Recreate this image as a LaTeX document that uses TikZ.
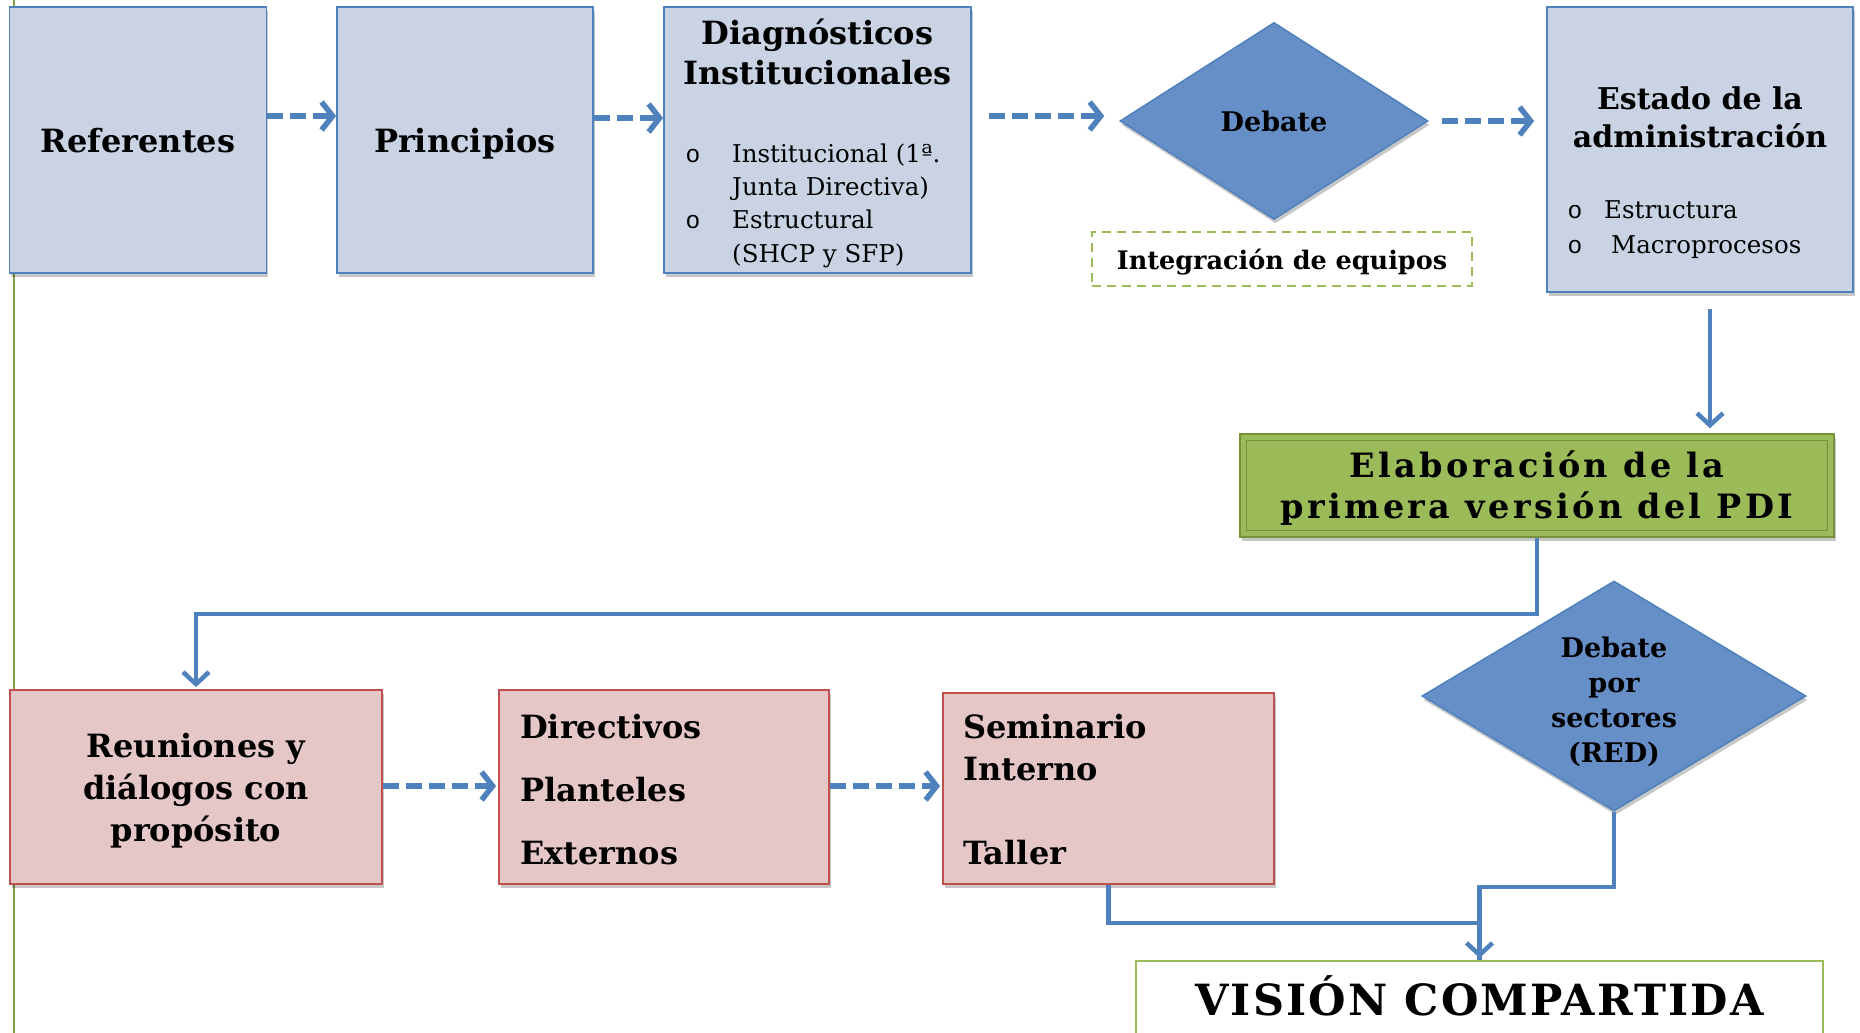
\documentclass[tikz,border=0pt]{standalone}
\usepackage{fontspec}
\setmainfont{DejaVu Serif}
\newfontfamily\spacedfont[LetterSpace=10]{DejaVu Serif}
\newfontfamily\visfont[LetterSpace=5]{DejaVu Serif}
\newfontfamily\bulletfont{Liberation Mono}
\usetikzlibrary{arrows.meta,shapes.geometric,shadows,calc}
\definecolor{boxfill}{RGB}{201,211,228}
\definecolor{bordblue}{RGB}{79,129,189}
\definecolor{diafill}{RGB}{102,142,199}
\definecolor{pinkfill}{RGB}{229,199,199}
\definecolor{pinkbord}{RGB}{192,80,77}
\definecolor{grn}{RGB}{155,187,89}
\definecolor{grndark}{RGB}{118,146,60}
\definecolor{vgreen}{RGB}{130,158,70}
\newcommand{\mybul}[1]{\llap{{\bulletfont o}\hspace{#1}}}
\begin{document}
\begin{tikzpicture}[x=1pt,y=-1pt,
  shad/.style={drop shadow={shadow xshift=1.5pt,shadow yshift=-4pt,opacity=0.22,fill=black}},
  bluebox/.style={draw=bordblue,line width=1.8pt,fill=boxfill,inner sep=0pt,shad},
  pinkbox/.style={draw=pinkbord,line width=1.8pt,fill=pinkfill,inner sep=0pt,shad},
  diam/.style={diamond,draw=bordblue,line width=1.5pt,fill=diafill,inner sep=0pt,shad},
  txt/.style={inner sep=0pt},
  dasharrow/.style={draw=bordblue,line width=5.5pt,dash pattern=on 16pt off 7pt,
     -{Straight Barb[length=11pt,width=28pt]}},
  solidline/.style={draw=bordblue,line width=4.5pt},
  solidarrow/.style={draw=bordblue,line width=4.5pt,-{Straight Barb[length=12pt,width=26pt]}},
  vline/.style={draw=vgreen,line width=1.5pt}
]
\useasboundingbox (0,0) rectangle (1860,1033);
\clip (0,0) rectangle (1860,1033);
\fill[white] (0,0) rectangle (1860,1033);
\draw[vline] (14,0) -- (14,1033);

% top row
\node[bluebox,minimum width=257pt,minimum height=266pt,text height=24pt,text depth=0pt,font=\fontsize{32}{38}\selectfont\bfseries] (ref) at (138,140) {Referentes};
\node[bluebox,minimum width=256pt,minimum height=266pt,text height=24pt,text depth=0pt,font=\fontsize{32}{38}\selectfont\bfseries] (pri) at (465,140) {Principios};
\node[bluebox,minimum width=307pt,minimum height=266pt] (dia) at (817.5,140) {};
\node[txt,align=center,font=\fontsize{32}{40}\selectfont\bfseries] (diat) at (817.5,52) {Diagnósticos\\Institucionales};
\node[txt,anchor=west,align=left,font=\fontsize{24.5}{33.3}\selectfont] (diab) at (732,205.5)
  {\mybul{32pt}Institucional (1ª.\\Junta Directiva)\\\mybul{32pt}Estructural\\(SHCP y SFP)};

\node[diam,minimum width=308pt,minimum height=197pt,font=\fontsize{27}{30}\selectfont\bfseries] (deb) at (1274,121) {Debate};
\node[draw=grn,dash pattern=on 9pt off 6pt,line width=1.5pt,minimum width=380pt,minimum height=54pt,inner sep=0pt] (integ) at (1282,259) {};
\node[txt,font=\fontsize{25.5}{30}\selectfont\bfseries] (integt) at (1282,262) {Integración de equipos};

\node[bluebox,minimum width=306pt,minimum height=285pt] (est) at (1700,149.5) {};
\node[txt,align=center,font=\fontsize{30}{38}\selectfont\bfseries] (estt) at (1700,117.5) {Estado de la\\administración};
\node[txt,anchor=west,align=left,font=\fontsize{24.5}{35}\selectfont] (estb) at (1604,230)
  {\mybul{22pt}Estructura\\\mybul{22pt}\hspace{7pt}Macroprocesos};

% middle
\node[draw=grndark,fill=grn,line width=1.5pt,minimum width=594pt,minimum height=103pt,inner sep=0pt,shad] (elab) at (1537,485.5) {};
\draw[grndark,line width=1pt] ([shift={(7pt,-7pt)}]elab.north west) rectangle ([shift={(-7pt,7pt)}]elab.south east);
\node[txt,align=center,font=\spacedfont\fontsize{33.5}{41}\selectfont\bfseries] (elabt) at (1537,488) {Elaboración de la\\primera versión del PDI};

% bottom row
\node[pinkbox,minimum width=372pt,minimum height=194pt] (reu) at (196,787) {};
\node[txt,align=center,font=\fontsize{32}{42}\selectfont\bfseries] (reut) at (196,791) {Reuniones y\\diálogos con\\propósito};
\node[pinkbox,minimum width=330pt,minimum height=194pt] (dir) at (664,787) {};
\node[txt,anchor=west,align=left,font=\fontsize{32}{63}\selectfont\bfseries] (dirt) at (520,790) {Directivos\\Planteles\\Externos};
\node[pinkbox,minimum width=331pt,minimum height=191pt] (sem) at (1108.5,788.5) {};
\node[txt,anchor=west,align=left,font=\fontsize{32}{42}\selectfont\bfseries] (semt) at (963,790) {Seminario\\Interno\\\mbox{}\\Taller};

\node[diam,minimum width=384pt,minimum height=230pt] (dred) at (1614,696) {};
\node[txt,align=center,font=\fontsize{27}{35}\selectfont\bfseries] (dredt) at (1614,702) {Debate\\por\\sectores\\(RED)};

\node[draw=grn,fill=white,line width=2pt,minimum width=687pt,minimum height=110pt,inner sep=0pt] (vis) at (1479.5,1016) {};
\node[txt,font=\visfont\fontsize{43}{50}\selectfont\bfseries] (vist) at (1479.5,996) {VISIÓN COMPARTIDA};

% connectors
\draw[dasharrow] ([yshift=24pt]ref.east) -- ([yshift=24pt]pri.west);
\draw[dasharrow] ([yshift=22pt]pri.east) -- ([yshift=22pt]dia.west);
\draw[dasharrow,shorten <=17pt,shorten >=15pt] ([yshift=24pt]dia.east) -- ([yshift=5pt]deb.west);
\draw[dasharrow,shorten <=13pt,shorten >=12pt] (deb.east) -- ([yshift=28.5pt]est.west);
\draw[solidarrow,shorten <=16pt,shorten >=5pt] ([xshift=10pt]est.south) -- ([xshift=10pt]est.south |- elab.north);
\draw[solidarrow,shorten >=2pt] (elab.south) -- ++(0,76) -| (reu.north);
\draw[dasharrow,shorten >=2pt] ([yshift=1pt]reu.east) -- ([yshift=1pt]dir.west);
\draw[dasharrow,shorten >=2pt] ([yshift=1pt]dir.east) -- ([yshift=2.5pt]sem.west);
\draw[solidline] (sem.south) -- ++(0,38) -| (vis.north);
\draw[solidarrow,shorten >=2pt] (dred.south) -- ++(0,75) -| (vis.north);
\end{tikzpicture}
\end{document}
